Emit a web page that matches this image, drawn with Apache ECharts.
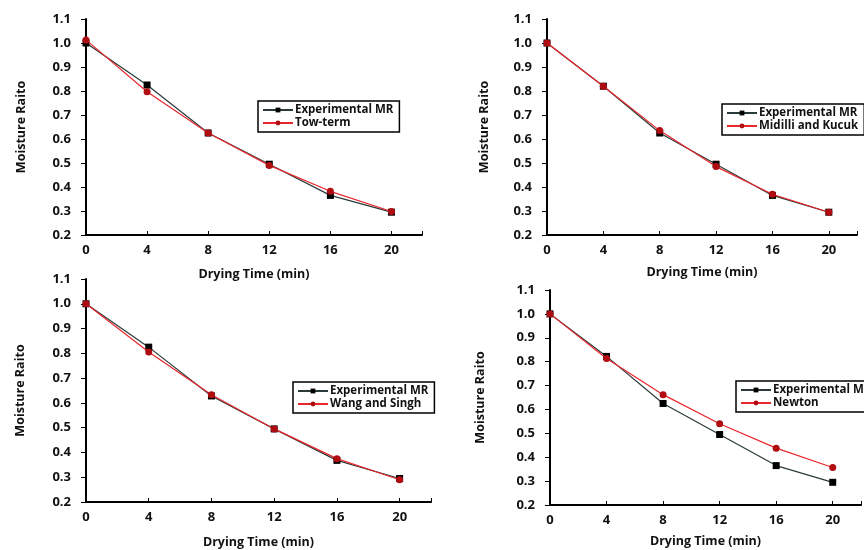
<!DOCTYPE html>
<html>
<head>
<meta charset="utf-8">
<script src="https://cdn.jsdelivr.net/npm/echarts@6/dist/echarts.min.js"></script>
<style>html,body{margin:0;padding:0;background:#fff;}#c{width:864px;height:550px;}</style>
</head>
<body>
<div id="c"></div>
<script>
var times = [0, 4, 8, 12, 16, 20];
var yTicks = [0.2, 0.3, 0.4, 0.5, 0.6, 0.7, 0.8, 0.9, 1.0, 1.1];

var exp1 = [1.0, 0.825, 0.625, 0.495, 0.365, 0.295];
var towTerm = [1.013, 0.797, 0.625, 0.49, 0.382, 0.298];

var exp2 = [1.0, 0.82, 0.625, 0.495, 0.365, 0.295];
var midilliKucuk = [1.0, 0.82, 0.635, 0.485, 0.37, 0.295];

var exp3 = [1.0, 0.825, 0.628, 0.495, 0.368, 0.295];
var wangSingh = [1.0, 0.805, 0.633, 0.495, 0.375, 0.29];

var exp4 = [1.0, 0.822, 0.625, 0.495, 0.365, 0.295];
var newton = [1.0, 0.813, 0.662, 0.54, 0.438, 0.357];

var modelNames = ['Tow-term', 'Midilli and Kucuk', 'Wang and Singh', 'Newton'];
var expSets = [exp1, exp2, exp3, exp4];
var modelSets = [towTerm, midilliKucuk, wangSingh, newton];

var FONT = 'Open Sans';
var grids = [
  {left: 86, top: 19, width: 336, height: 216},
  {left: 547, top: 19, width: 310, height: 216},
  {left: 86, top: 279, width: 345, height: 224},
  {left: 550, top: 290, width: 323, height: 215}
];
var yNameGaps = [58, 56, 59, 63];
var xNameGaps = [33, 31, 34, 30];
var legendPos = [
  {left: 258, top: 101, width: 139},
  {left: 722, top: 104, width: 133},
  {left: 293, top: 382, width: 145},
  {left: 736, top: 381, width: 150}
];

var xAxes = [], yAxes = [], series = [], legends = [];
for (var i = 0; i < 4; i++) {
  xAxes.push({
    gridIndex: i, type: 'value', min: 0, max: 22, interval: 4,
    name: 'Drying Time (min)', nameLocation: 'middle', nameGap: xNameGaps[i],
    nameTextStyle: {fontFamily: FONT, fontWeight: 'bold', fontSize: 12.5, color: '#111'},
    axisLine: {show: true, lineStyle: {color: '#000', width: 2}},
    axisTick: {show: true, inside: true, length: 4, lineStyle: {color: '#000'}},
    axisLabel: {margin: 9, fontFamily: FONT, fontWeight: 'bold', fontSize: 13, color: '#111',
      formatter: function (v) { return v > 20 ? '' : String(v); }},
    splitLine: {show: false}
  });
  yAxes.push({
    gridIndex: i, type: 'value', min: 0.2, max: 1.1, interval: 0.1,
    name: 'Moisture Raito', nameLocation: 'middle', nameGap: yNameGaps[i], nameRotate: 90,
    nameTextStyle: {fontFamily: FONT, fontWeight: 'bold', fontSize: 12.5, color: '#111'},
    axisLine: {show: true, lineStyle: {color: '#000', width: 2}},
    axisTick: {show: true, inside: false, length: 5, lineStyle: {color: '#000'}},
    axisLabel: {margin: 15, fontFamily: FONT, fontWeight: 'bold', fontSize: 13, color: '#111',
      formatter: function (v) { return v.toFixed(1); }},
    splitLine: {show: false}
  });
  var expName = 'Experimental MR';
  series.push({
    name: expName, type: 'line', xAxisIndex: i, yAxisIndex: i,
    data: times.map(function (t, k) { return [t, expSets[i][k]]; }),
    symbol: 'rect', symbolSize: 7, showSymbol: true,
    lineStyle: {color: '#2a3a3a', width: 1.2},
    itemStyle: {color: '#000'}, z: 2, animation: false
  });
  series.push({
    name: modelNames[i], type: 'line', xAxisIndex: i, yAxisIndex: i,
    data: times.map(function (t, k) { return [t, modelSets[i][k]]; }),
    symbol: 'circle', symbolSize: 7, showSymbol: true,
    lineStyle: {color: '#e8262b', width: 1.2},
    itemStyle: {color: '#b00d12'}, z: 3, animation: false
  });
  legends.push({
    data: [expName, modelNames[i]],
    left: legendPos[i].left, top: legendPos[i].top, width: legendPos[i].width,
    orient: 'vertical', itemGap: 1, itemWidth: 30, itemHeight: 6,
    padding: [3, 6, 3, 4],
    borderColor: '#000', borderWidth: 1.5, backgroundColor: '#fff',
    textStyle: {fontFamily: FONT, fontWeight: 'bold', fontSize: 11.5, color: '#111', padding: [0, 0, 0, -3]},
    selectedMode: false
  });
}

var chart = echarts.init(document.getElementById('c'), null, {renderer: 'canvas'});
chart.setOption({
  backgroundColor: '#fff',
  animation: false,
  grid: grids,
  xAxis: xAxes,
  yAxis: yAxes,
  legend: legends,
  series: series
});
</script>
</body>
</html>
